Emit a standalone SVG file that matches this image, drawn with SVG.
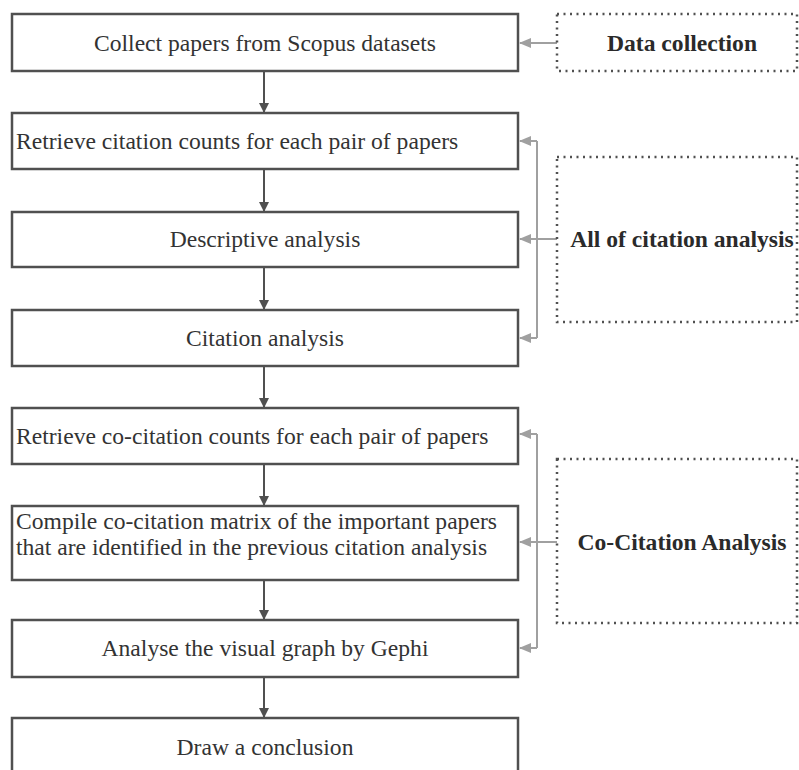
<svg xmlns="http://www.w3.org/2000/svg" width="799" height="770" viewBox="0 0 799 770">
<defs>
<style>
.box{fill:#fff;stroke:#505050;stroke-width:2.5}
.dot{fill:none;stroke:#505050;stroke-width:2.5;stroke-dasharray:2 4.5}
.t{font-family:"Liberation Serif","Times New Roman",serif;font-size:23.6px;fill:#333}
.c{text-anchor:middle}
.b{font-weight:bold;fill:#2a2a2a}
.down{stroke:#505050;stroke-width:2;fill:none}
.side{stroke:#a0a0a0;stroke-width:2;fill:none}
</style>
<marker id="ad" markerWidth="10" markerHeight="10" refX="9" refY="5" orient="auto" markerUnits="userSpaceOnUse"><path d="M0,0 L10,5 L0,10 z" fill="#505050"/></marker>
<marker id="as" markerWidth="12" markerHeight="10" refX="11" refY="5" orient="auto" markerUnits="userSpaceOnUse"><path d="M0,0 L12,5 L0,10 z" fill="#a0a0a0"/></marker>
</defs>
<rect width="799" height="770" fill="#fff"/>
<g id="connectors">
<line class="down" x1="264" y1="71" x2="264" y2="112" marker-end="url(#ad)"/>
<line class="down" x1="264" y1="169" x2="264" y2="211" marker-end="url(#ad)"/>
<line class="down" x1="264" y1="267" x2="264" y2="309" marker-end="url(#ad)"/>
<line class="down" x1="264" y1="366" x2="264" y2="407" marker-end="url(#ad)"/>
<line class="down" x1="264" y1="464" x2="264" y2="505" marker-end="url(#ad)"/>
<line class="down" x1="264" y1="580" x2="264" y2="619" marker-end="url(#ad)"/>
<line class="down" x1="264" y1="677" x2="264" y2="717" marker-end="url(#ad)"/>
<line class="side" x1="557" y1="43" x2="520" y2="43" marker-end="url(#as)"/>
<polyline class="side" points="537,141 537,338"/>
<line class="side" x1="537" y1="141" x2="520" y2="141" marker-end="url(#as)"/>
<line class="side" x1="557" y1="239" x2="520" y2="239" marker-end="url(#as)"/>
<line class="side" x1="537" y1="338" x2="520" y2="338" marker-end="url(#as)"/>
<polyline class="side" points="537,434 537,648"/>
<line class="side" x1="537" y1="434" x2="520" y2="434" marker-end="url(#as)"/>
<line class="side" x1="557" y1="542" x2="520" y2="542" marker-end="url(#as)"/>
<line class="side" x1="537" y1="648" x2="520" y2="648" marker-end="url(#as)"/>
</g>
<g id="n1"><rect class="box" x="12" y="14" width="506" height="57"/><text class="t c" x="265" y="51">Collect papers from Scopus datasets</text></g>
<g id="n2"><rect class="box" x="12" y="113" width="506" height="56"/><text class="t" x="16" y="149">Retrieve citation counts for each pair of papers</text></g>
<g id="n3"><rect class="box" x="12" y="212" width="506" height="55"/><text class="t c" x="265" y="247">Descriptive analysis</text></g>
<g id="n4"><rect class="box" x="12" y="310" width="506" height="56"/><text class="t c" x="265" y="346">Citation analysis</text></g>
<g id="n5"><rect class="box" x="12" y="408" width="506" height="56"/><text class="t" x="16" y="444">Retrieve co-citation counts for each pair of papers</text></g>
<g id="n6"><rect class="box" x="12" y="506" width="506" height="74"/><text class="t" x="16" y="529">Compile co-citation matrix of the important papers</text><text class="t" x="16" y="555">that are identified in the previous citation analysis</text></g>
<g id="n7"><rect class="box" x="12" y="620" width="506" height="57"/><text class="t c" x="265" y="656">Analyse the visual graph by Gephi</text></g>
<g id="n8"><rect class="box" x="12" y="718" width="506" height="70"/><text class="t c" x="265" y="755">Draw a conclusion</text></g>
<g id="g1"><rect class="dot" x="557" y="14" width="240" height="57"/><text class="t c b" x="682" y="51">Data collection</text></g>
<g id="g2"><rect class="dot" x="557" y="157" width="240" height="165"/><text class="t c b" x="682" y="247">All of citation analysis</text></g>
<g id="g3"><rect class="dot" x="557" y="459" width="240" height="164"/><text class="t c b" x="682" y="550">Co-Citation Analysis</text></g>
</svg>
